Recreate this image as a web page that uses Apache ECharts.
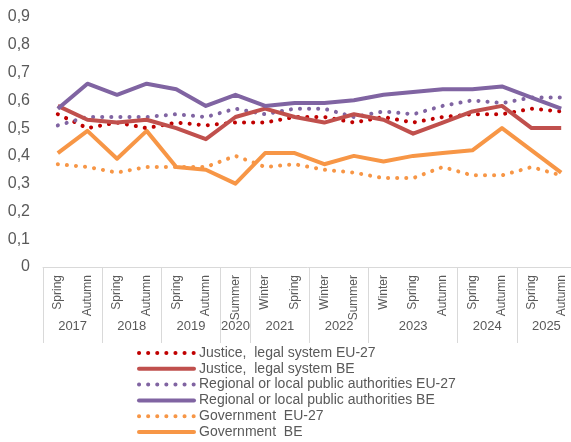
<!DOCTYPE html>
<html>
<head>
<meta charset="utf-8">
<script src="https://cdn.jsdelivr.net/npm/echarts@6/dist/echarts.min.js"></script>
<style>
html, body { margin: 0; padding: 0; background: #fff; }
#chart { width: 571px; height: 442px; }
</style>
</head>
<body>
<div id="chart"></div>
<script>
// Survey waves (inner axis level) and the years they belong to (outer level)
const categories = ['Spring', 'Autumn', 'Spring', 'Autumn', 'Spring', 'Autumn', 'Summer',
  'Winter', 'Spring', 'Winter', 'Summer', 'Winter', 'Spring', 'Autumn',
  'Spring', 'Autumn', 'Spring', 'Autumn'];
const years = ['2017', '2018', '2019', '2020', '2021', '2022', '2023', '2024', '2025'];
const yearSpans = [2, 2, 2, 1, 2, 2, 3, 2, 2];

const yTicks = [0, 0.1, 0.2, 0.3, 0.4, 0.5, 0.6, 0.7, 0.8, 0.9];

// Trust index per wave
const justiceEU = [0.55, 0.50, 0.52, 0.50, 0.52, 0.51, 0.52, 0.52, 0.54, 0.54, 0.52, 0.54, 0.52, 0.54, 0.55, 0.55, 0.57, 0.56];
const justiceBE = [0.58, 0.53, 0.52, 0.53, 0.50, 0.46, 0.54, 0.57, 0.54, 0.52, 0.55, 0.53, 0.48, 0.52, 0.56, 0.58, 0.50, 0.50];
const regionalEU = [0.51, 0.54, 0.54, 0.54, 0.55, 0.54, 0.57, 0.55, 0.57, 0.57, 0.54, 0.56, 0.55, 0.58, 0.60, 0.59, 0.61, 0.61];
const regionalBE = [0.57, 0.66, 0.62, 0.66, 0.64, 0.58, 0.62, 0.58, 0.59, 0.59, 0.60, 0.62, 0.63, 0.64, 0.64, 0.65, 0.61, 0.57];
const governmentEU = [0.37, 0.36, 0.34, 0.36, 0.36, 0.36, 0.40, 0.36, 0.37, 0.35, 0.34, 0.32, 0.32, 0.36, 0.33, 0.33, 0.36, 0.33];
const governmentBE = [0.41, 0.49, 0.39, 0.49, 0.36, 0.35, 0.30, 0.41, 0.41, 0.37, 0.40, 0.38, 0.40, 0.41, 0.42, 0.50, 0.42, 0.34];

// Year group boundaries and centres on a 0..N value scale
const yearBounds = [0];
const yearCentres = {};
yearSpans.forEach((span, i) => {
  const start = yearBounds[yearBounds.length - 1];
  yearCentres[start + span / 2] = years[i];
  yearBounds.push(start + span);
});

const FONT = '"Liberation Sans", Arial, sans-serif';
const TEXT = '#595959';
const AXIS = '#D9D9D9';
const DOT = [0.1, 9];

function lineSeries(name, data, color, dotted) {
  return {
    name: name,
    type: 'line',
    data: data,
    symbol: 'none',
    smooth: false,
    lineStyle: dotted
      ? { color: color, width: 4, type: DOT, cap: 'round' }
      : { color: color, width: 4, cap: 'butt', join: 'round' },
    itemStyle: { color: color },
    emphasis: { disabled: true }
  };
}

const series = [
  lineSeries('Government  EU-27', governmentEU, '#F79646', true),
  lineSeries('Government  BE', governmentBE, '#F79646', false),
  lineSeries('Justice,  legal system EU-27', justiceEU, '#C00000', true),
  lineSeries('Regional or local public authorities EU-27', regionalEU, '#8064A2', true),
  lineSeries('Justice,  legal system BE', justiceBE, '#C0504D', false),
  lineSeries('Regional or local public authorities BE', regionalBE, '#8064A2', false)
];

const legendOrder = [
  'Justice,  legal system EU-27',
  'Justice,  legal system BE',
  'Regional or local public authorities EU-27',
  'Regional or local public authorities BE',
  'Government  EU-27',
  'Government  BE'
];

const chart = echarts.init(document.getElementById('chart'), null, { renderer: 'canvas' });
chart.setOption({
  animation: false,
  backgroundColor: '#fff',
  grid: { left: 43, top: 17, width: 533, height: 250, outerBoundsMode: 'none', containLabel: false },
  legend: {
    orient: 'vertical',
    left: 137,
    top: 346,
    itemWidth: 55,
    itemHeight: 14,
    itemGap: 1.8,
    padding: 0,
    lineStyle: { width: 4, cap: 'round' },
    itemStyle: { color: 'transparent', borderColor: 'transparent', borderWidth: 0, opacity: 0 },
    textStyle: { color: TEXT, fontSize: 14, fontFamily: FONT },
    data: legendOrder
  },
  xAxis: [
    {
      type: 'category',
      data: categories,
      boundaryGap: true,
      position: 'bottom',
      axisLine: { show: true, lineStyle: { color: AXIS, width: 1 } },
      axisTick: { show: false },
      axisLabel: {
        rotate: 90,
        interval: 0,
        margin: 8,
        color: TEXT,
        fontSize: 12,
        fontFamily: FONT
      },
      splitLine: { show: false }
    },
    {
      type: 'value',
      min: 0,
      max: categories.length,
      position: 'bottom',
      axisLine: { show: false },
      axisTick: {
        show: true,
        customValues: yearBounds,
        length: 76,
        lineStyle: { color: AXIS, width: 1 }
      },
      axisLabel: {
        customValues: Object.keys(yearCentres).map(Number),
        formatter: v => yearCentres[v] || '',
        margin: 53,
        color: TEXT,
        fontSize: 13,
        fontFamily: FONT
      },
      splitLine: { show: false }
    }
  ],
  yAxis: {
    type: 'value',
    min: 0,
    max: 0.9,
    interval: 0.1,
    axisLine: { show: false },
    axisTick: { show: false },
    splitLine: { show: false },
    axisLabel: {
      customValues: yTicks,
      margin: 13,
      color: TEXT,
      fontSize: 16,
      fontFamily: FONT,
      formatter: v => (v === 0 ? '0' : v.toFixed(1).replace('.', ','))
    }
  },
  series: series
});
</script>
</body>
</html>
